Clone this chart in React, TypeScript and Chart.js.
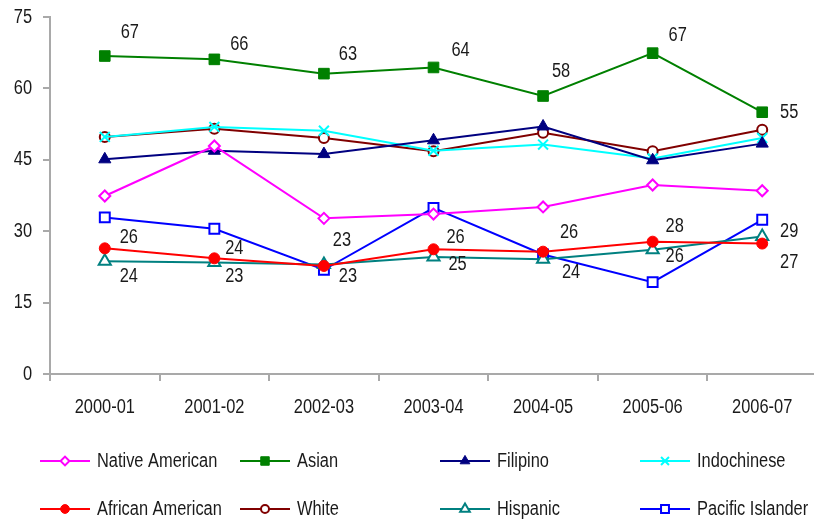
import React, { useEffect, useRef } from "react";
import { Chart, registerables } from "chart.js";
import { drawPoint } from "chart.js/helpers";

Chart.register(...registerables);

const categories = ["2000-01", "2001-02", "2002-03", "2003-04", "2004-05", "2005-06", "2006-07"];
const yTicks = [0, 15, 30, 45, 60, 75];

const nativeAmerican = [37.4, 47.9, 32.7, 33.6, 35.1, 39.7, 38.5];
const asian = [66.8, 66.1, 63.1, 64.4, 58.4, 67.4, 55.0];
const filipino = [45.1, 46.9, 46.2, 49.1, 52.0, 44.9, 48.4];
const indochinese = [49.8, 51.9, 51.1, 46.9, 48.2, 45.3, 49.6];
const africanAmerican = [26.4, 24.3, 22.7, 26.2, 25.7, 27.8, 27.4];
const white = [49.8, 51.5, 49.6, 46.8, 50.7, 46.8, 51.3];
const hispanic = [23.7, 23.4, 23.0, 24.6, 24.1, 26.1, 28.9];
const pacificIslander = [32.9, 30.5, 21.9, 34.9, 25.1, 19.3, 32.4];

const FONT = "'Liberation Sans', Arial, sans-serif";
const FONT_SIZE = 20;
const NARROW = 0.82;
const TEXT = "#1a1a1a";
const AXIS = "#a9a9a9";

// label offsets (style) for the labelled series, indexed by dataset label
const LABEL_OFFSETS: Record<string, [number, number][]> = {
  Asian: [[25, -24], [25, -15], [24, -19], [27, -17], [18, -25], [25, -18], [27, 0]],
  "African American": [[24, -11], [20, -10], [18, -25], [22, -12], [26, -19], [22, -15], [27, 19]],
  Hispanic: [[24, 15], [20, 14], [24, 12], [24, 8], [28, 13], [22, 7], [27, -5]],
};

const series = [
  { label: "Native American", data: nativeAmerican, color: "#ff00ff", style: "rectRot", fill: false, r: 5.5 },
  { label: "Asian", data: asian, color: "#008000", style: "rect", fill: true, r: 7.5 },
  { label: "Filipino", data: filipino, color: "#000080", style: "triangle", fill: true, r: 7 },
  { label: "Indochinese", data: indochinese, color: "#00ffff", style: "crossRot", fill: false, r: 7 },
  { label: "African American", data: africanAmerican, color: "#ff0000", style: "circle", fill: true, r: 5.5 },
  { label: "White", data: white, color: "#800000", style: "circle", fill: false, r: 5 },
  { label: "Hispanic", data: hispanic, color: "#008080", style: "triangle", fill: false, r: 7 },
  { label: "Pacific Islander", data: pacificIslander, color: "#0000ff", style: "rect", fill: false, r: 7 },
];

function narrowText(ctx: CanvasRenderingContext2D, text: string, x: number, y: number, align: CanvasTextAlign) {
  ctx.save();
  ctx.font = `${FONT_SIZE}px ${FONT}`;
  ctx.fillStyle = TEXT;
  ctx.textAlign = align;
  ctx.textBaseline = "middle";
  ctx.translate(x, y);
  ctx.scale(NARROW, 1);
  ctx.fillText(text, 0, 0);
  ctx.restore();
}

const overlayPlugin = {
  id: "overlay",
  afterDatasetsDraw(chart: any) {
    const ctx = chart.ctx;
    chart.data.datasets.forEach((ds: any, di: number) => {
      const offs = LABEL_OFFSETS[ds.label];
      if (!offs) return;
      const meta = chart.getDatasetMeta(di);
      meta.data.forEach((pt: any, i: number) => {
        const [dx, dy] = offs[i];
        narrowText(ctx, String(Math.round(ds.data[i])), pt.x + dx, pt.y + dy, "center");
      });
    });
  },
  afterDraw(chart: any) {
    const ctx = chart.ctx;
    const xs = chart.scales.x;
    const ys = chart.scales.y;
    // axis tick labels
    chart.data.labels.forEach((lab: string, i: number) => {
      narrowText(ctx, lab, xs.getPixelForValue(i), 407, "center");
    });
    yTicks.forEach((v) => {
      narrowText(ctx, String(v), 32, ys.getPixelForValue(v), "right");
    });
    // legend
    ctx.save();
    chart.data.datasets.forEach((ds: any, i: number) => {
      const col = i % 4;
      const row = Math.floor(i / 4);
      const x0 = 40 + col * 200;
      const y = 461 + row * 48;
      ctx.strokeStyle = ds.borderColor;
      ctx.lineWidth = 2;
      ctx.beginPath();
      ctx.moveTo(x0, y);
      ctx.lineTo(x0 + 50, y);
      ctx.stroke();
      ctx.fillStyle = ds.pointBackgroundColor;
      ctx.strokeStyle = ds.borderColor;
      ctx.lineWidth = ds.pointBorderWidth;
      drawPoint(ctx, { pointStyle: ds.pointStyle, rotation: 0, radius: ds.pointRadius * 0.8, borderWidth: ds.pointBorderWidth }, x0 + 25, y);
      narrowText(ctx, ds.label, x0 + 57, y, "left");
    });
    ctx.restore();
  },
};

export default function App() {
  const ref = useRef<HTMLCanvasElement>(null);
  useEffect(() => {
    if (!ref.current) return;
    const chart = new Chart(ref.current, {
      type: "line",
      data: {
        labels: categories,
        datasets: series.map((s) => ({
          label: s.label,
          data: s.data,
          borderColor: s.color,
          backgroundColor: s.color,
          borderWidth: 2,
          pointStyle: s.style as any,
          pointRadius: s.r,
          pointHoverRadius: s.r,
          pointBackgroundColor: s.fill ? s.color : "#ffffff",
          pointBorderColor: s.color,
          pointBorderWidth: s.style === "crossRot" ? 2 : s.fill ? 1 : 2,
          tension: 0,
        })),
      },
      options: {
        responsive: false,
        animation: false,
        devicePixelRatio: 1,
        layout: { padding: { top: 17, left: 0, right: 0, bottom: 90 } },
        plugins: { legend: { display: false }, tooltip: { enabled: false } },
        scales: {
          x: {
            offset: true,
            grid: { offset: true, drawOnChartArea: false, drawTicks: true, tickLength: 7, color: AXIS, lineWidth: 2 },
            border: { display: true, color: AXIS, width: 2 },
            ticks: { display: false },
            afterFit: (s: any) => { s.height = 59; },
          },
          y: {
            min: 0,
            max: 75,
            afterBuildTicks: (s: any) => { s.ticks = yTicks.map((v) => ({ value: v })); },
            grid: { drawOnChartArea: false, drawTicks: true, tickLength: 7, color: AXIS, lineWidth: 2 },
            border: { display: true, color: AXIS, width: 2 },
            ticks: { display: false },
            afterFit: (s: any) => { s.width = 50; },
          },
        },
      },
      plugins: [overlayPlugin],
    });
    return () => chart.destroy();
  }, []);
  return (
    <div style={{ position: "absolute", left: 0, top: 0, width: 814, height: 523, overflow: "hidden", background: "#fff" }}>
      <canvas ref={ref} width={826} height={523} style={{ display: "block" }} />
    </div>
  );
}
